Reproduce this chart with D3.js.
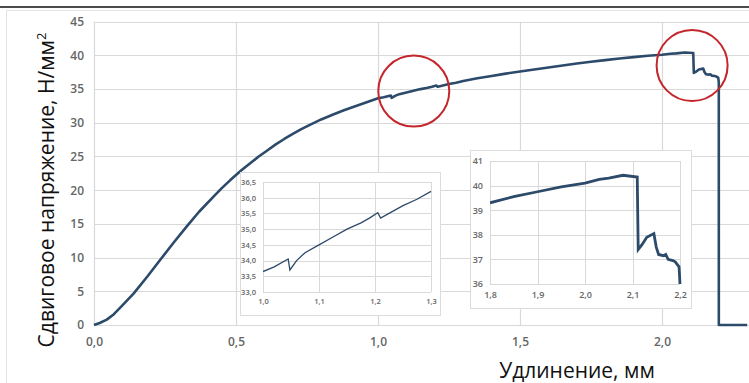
<!DOCTYPE html>
<html>
<head>
<meta charset="utf-8">
<script src="https://cdn.jsdelivr.net/npm/d3@7"></script>
<style>
  html, body { margin: 0; padding: 0; background: #fff; }
  svg { display: block; }
</style>
</head>
<body>
<svg id="chart" width="749" height="383"></svg>
<script>
// Shear test record: elongation (mm) vs shear stress (N/mm²)
const elongation = [
  0.00, 0.02, 0.045, 0.07, 0.10, 0.14, 0.19, 0.232, 0.28, 0.326, 0.37, 0.42, 0.45, 0.48, 0.52,
  0.55, 0.58, 0.61, 0.64, 0.67, 0.70, 0.73, 0.76, 0.80, 0.84, 0.88, 0.92, 0.96, 1.00, 1.02,
  1.045, 1.048, 1.06, 1.075, 1.10, 1.125, 1.15, 1.175, 1.19, 1.205, 1.21, 1.225, 1.25, 1.275, 1.30,
  1.35, 1.40, 1.45, 1.50, 1.55, 1.60, 1.65, 1.70, 1.75, 1.80, 1.85, 1.90, 1.95, 2.00, 2.03,
  2.05, 2.08, 2.11, 2.112, 2.12, 2.13, 2.145, 2.15, 2.155, 2.165, 2.17, 2.175, 2.185, 2.19, 2.198,
  2.20, 2.2001, 2.30
];
const stress = [
  0.0, 0.3, 0.8, 1.6, 2.9, 4.7, 7.3, 9.6, 12.2, 14.6, 16.8, 19.0, 20.3, 21.5, 23.0,
  24.0, 25.0, 25.9, 26.8, 27.6, 28.35, 29.05, 29.7, 30.5, 31.2, 31.85, 32.45, 33.05, 33.65, 33.8,
  34.05, 33.7, 34.0, 34.25, 34.5, 34.75, 35.0, 35.2, 35.35, 35.52, 35.35, 35.5, 35.75, 35.95, 36.2,
  36.6, 36.95, 37.3, 37.6, 37.9, 38.2, 38.5, 38.8, 39.05, 39.3, 39.55, 39.75, 39.95, 40.1, 40.25,
  40.3, 40.42, 40.35, 37.4, 37.6, 37.9, 38.05, 37.5, 37.2, 37.15, 37.2, 37.0, 36.95, 36.9, 36.7,
  36.0, 0.0, 0.0
];

// Main axes ticks
const mainXTicks = [0.0, 0.5, 1.0, 1.5, 2.0];
const mainYTicks = [0, 5, 10, 15, 20, 25, 30, 35, 40, 45];

// Zoomed views
const inset1XTicks = [1.0, 1.1, 1.2, 1.3];
const inset1YTicks = [33.0, 33.5, 34.0, 34.5, 35.0, 35.5, 36.0, 36.5];
const inset2XTicks = [1.8, 1.9, 2.0, 2.1, 2.2];
const inset2YTicks = [36, 37, 38, 39, 40, 41];

// Highlighted regions (elongation, stress)
const markX = [1.126, 2.106];
const markY = [34.7, 38.5];

const yTitle = "Сдвиговое напряжение, Н/мм";
const xTitle = "Удлинение, мм";

const data = elongation.map((x, i) => ({ x, y: stress[i] }));
const comma = d3.format(".1f");
const fmt1 = v => comma(v).replace(".", ",");
const fmt0 = v => String(v);

const LINE = "#2c4a69";
const GRID = "#d9d9d9";
const TICK = "#666666";

const svg = d3.select("#chart");

// outer frame
svg.append("rect").attr("x", 6.5).attr("y", 10.5).attr("width", 800).attr("height", 400)
  .attr("fill", "none").attr("stroke", "#e4e4e4");
svg.append("line").attr("x1", 0).attr("x2", 749).attr("y1", 7).attr("y2", 7)
  .attr("stroke", "#111").attr("stroke-width", 1.6);

// ---------- main plot ----------
const x = d3.scaleLinear().domain([0, 2.3]).range([94, 747.2]);
const y = d3.scaleLinear().domain([0, 45]).range([325, 21.7]);

const gGrid = svg.append("g");
gGrid.selectAll("line.h").data(mainYTicks).join("line")
  .attr("x1", x(0)).attr("x2", 749)
  .attr("y1", d => Math.round(y(d)) + 0.5).attr("y2", d => Math.round(y(d)) + 0.5)
  .attr("stroke", GRID).attr("stroke-width", 1.2);
gGrid.selectAll("line.v").data(mainXTicks).join("line")
  .attr("x1", d => Math.round(x(d)) + 0.5).attr("x2", d => Math.round(x(d)) + 0.5)
  .attr("y1", y(45)).attr("y2", y(0))
  .attr("stroke", GRID).attr("stroke-width", 1.2);

const yAxis = d3.axisLeft(y).tickValues(mainYTicks).tickFormat(fmt0).tickSize(0).tickPadding(10);
svg.append("g").attr("transform", `translate(${x(0)},0)`).call(yAxis)
  .call(g => g.select(".domain").remove())
  .call(g => g.selectAll("text").attr("fill", TICK).style("font", "600 12px 'Open Sans'"));

const xAxis = d3.axisBottom(x).tickValues(mainXTicks).tickFormat(fmt1).tickSize(0).tickPadding(12);
svg.append("g").attr("transform", `translate(0,${y(0)})`).call(xAxis)
  .call(g => g.select(".domain").remove())
  .call(g => g.selectAll("text").attr("fill", TICK).style("font", "600 12px 'Open Sans'"));

const line = d3.line().x(d => x(d.x)).y(d => y(d.y));
svg.append("path").datum(data).attr("d", line)
  .attr("fill", "none").attr("stroke", LINE).attr("stroke-width", 2.6)
  .attr("stroke-linejoin", "round");

// axis titles
const yt = svg.append("text")
  .attr("transform", `translate(54,190) rotate(-90)`)
  .attr("text-anchor", "middle")
  .attr("fill", "#111")
  .style("font", "21px 'Open Sans'");
yt.append("tspan").text(yTitle);
yt.append("tspan").attr("dy", -8).style("font-size", "13px").text("2");

svg.append("text").attr("x", 577).attr("y", 378)
  .attr("text-anchor", "middle").attr("fill", "#111")
  .style("font", "21px 'Open Sans'").text(xTitle);

// ---------- inset plots ----------
function inset(opts) {
  const { frame, xr, yr, xd, yd, xt, yt, fmtX, fmtY, fs, sw, id, pad } = opts;
  const g = svg.append("g");
  g.append("rect").attr("x", frame[0] + 0.5).attr("y", frame[1] + 0.5)
    .attr("width", frame[2] - frame[0]).attr("height", frame[3] - frame[1])
    .attr("fill", "#fff").attr("stroke", "#dcdcdc");
  const sx = d3.scaleLinear().domain(xd).range(xr);
  const sy = d3.scaleLinear().domain(yd).range(yr);
  g.selectAll("line.h").data(yt).join("line")
    .attr("x1", xr[0]).attr("x2", xr[1])
    .attr("y1", d => Math.round(sy(d)) + 0.5).attr("y2", d => Math.round(sy(d)) + 0.5)
    .attr("stroke", GRID);
  g.selectAll("line.v").data(xt).join("line")
    .attr("x1", d => Math.round(sx(d)) + 0.5).attr("x2", d => Math.round(sx(d)) + 0.5)
    .attr("y1", yr[1]).attr("y2", yr[0])
    .attr("stroke", GRID);
  g.append("g").attr("transform", `translate(${xr[0]},0)`)
    .call(d3.axisLeft(sy).tickValues(yt).tickFormat(fmtY).tickSize(0).tickPadding(pad[0]))
    .call(a => a.select(".domain").remove())
    .call(a => a.selectAll("text").attr("fill", TICK).style("font", `600 ${fs}px 'Open Sans'`));
  g.append("g").attr("transform", `translate(0,${yr[0]})`)
    .call(d3.axisBottom(sx).tickValues(xt).tickFormat(fmtX).tickSize(0).tickPadding(pad[1]))
    .call(a => a.select(".domain").remove())
    .call(a => a.selectAll("text").attr("fill", TICK).style("font", `600 ${fs}px 'Open Sans'`));
  g.append("clipPath").attr("id", id).append("rect")
    .attr("x", xr[0]).attr("y", yr[1] - 2).attr("width", xr[1] - xr[0] + 2).attr("height", yr[0] - yr[1] + 2);
  const seg = data.filter(d => d.x >= xd[0] - 0.02 && d.x <= xd[1] + 0.001);
  g.append("path").datum(seg)
    .attr("clip-path", `url(#${id})`)
    .attr("d", d3.line().x(d => sx(d.x)).y(d => sy(d.y)))
    .attr("fill", "none").attr("stroke", LINE).attr("stroke-width", sw);
}

inset({
  frame: [240, 172, 440, 315], xr: [263, 431], yr: [292, 182],
  xd: [1.0, 1.3], yd: [33.0, 36.5], xt: inset1XTicks, yt: inset1YTicks,
  fmtX: fmt1, fmtY: fmt1, fs: 7.5, sw: 1.3, id: "clip1", pad: [7, 7]
});
inset({
  frame: [470, 150, 691, 308], xr: [490, 680], yr: [284, 161],
  xd: [1.8, 2.2], yd: [36, 41], xt: inset2XTicks, yt: inset2YTicks,
  fmtX: fmt1, fmtY: fmt0, fs: 9, sw: 2.8, id: "clip2", pad: [7, 8]
});

// highlight circles
svg.selectAll("circle.mark").data(markX.map((v, i) => [v, markY[i]])).join("circle")
  .attr("cx", d => x(d[0])).attr("cy", d => y(d[1])).attr("r", 35.5)
  .attr("fill", "none").attr("stroke", "#c4262c").attr("stroke-width", 2);
</script>
</body>
</html>
